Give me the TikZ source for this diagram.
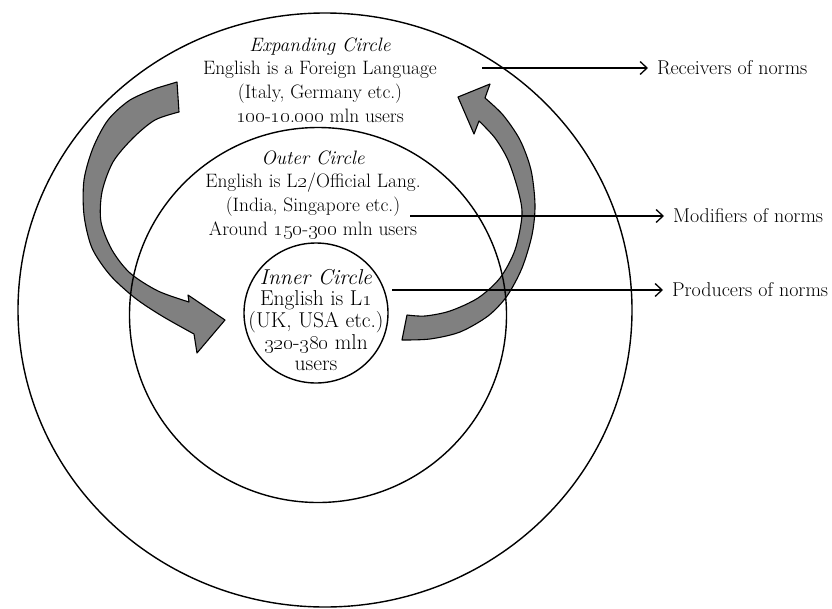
\documentclass[tikz,border=0pt]{standalone}
\usetikzlibrary{arrows.meta,shapes.geometric}
\newcommand{\os}[1]{\oldstylenums{#1}}
\begin{document}
\begin{tikzpicture}[x=1pt,y=-1pt,
  circ/.style={draw=black, line width=1.4pt, ellipse, inner sep=0pt},
  txt/.style={align=center, font=\fontsize{19.4}{23.8}\selectfont, inner sep=0pt},
  itxt/.style={align=center, font=\fontsize{21.5}{21.6}\selectfont, inner sep=0pt},
  lbl/.style={anchor=west, font=\fontsize{20}{22}\selectfont, inner sep=0pt, outer sep=0pt},
  normarrow/.style={line width=1.3pt, shorten >=9pt, -{Straight Barb[length=7pt,width=13pt]}},
  bigarrow/.style={fill=black!50, draw=black, line width=1.1pt, line join=round}
]
\useasboundingbox (0,0) rectangle (832,608);
\fill[white] (0,0) rectangle (832,608);

% big curved arrows
\draw[bigarrow] (177,82) -- (157,88) -- plot[smooth] coordinates {(157,88) (130,100) (108,120) (93,148) (84,180) (84,215) (92,248) (110,275) (135,298) (162,316) (194,334)} -- (197,353) -- (225,320) -- (188,295) -- (189,302) -- plot[smooth] coordinates {(189,302) (158,291) (130,273) (112,250) (101,222) (102,192) (113,162) (133,138) (155,120) (179,112)} -- cycle;

\draw[bigarrow] (407,315) -- (402,340) -- plot[smooth] coordinates {(402,340) (430,339) (460,332) (488,316) (507,296) (522,268) (532,235) (535,205) (531,170) (520,140) (503,115) (485,98)} -- (490,84) -- (458,97) -- (474,134) -- (479,121) -- plot[smooth] coordinates {(479,121) (495,138) (508,160) (518,190) (522,215) (515,250) (500,278) (478,298) (450,311) (425,316) (407,315)} -- cycle;

% circles
\node[circ, minimum width=614pt, minimum height=594pt] (outerc) at (325,310) {};
\node[circ, minimum width=377pt, minimum height=375pt] (midc) at (318,315) {};
\node[circ, minimum width=144pt, minimum height=140pt] (innc) at (316,313) {};

% texts
\node[txt] (exp) at (320,80) {\textit{Expanding Circle}\\English is a Foreign Language\\(Italy, Germany etc.)\\\os{100}-\os{10}.\os{000} mln users};
\node[txt] (out) at (313,195) {\textit{Outer Circle}\\English is L\os{2}/Official Lang.\\(India, Singapore etc.)\\Around \os{150}-\os{300} mln users};
\node[itxt] (inn) at (316,320) {\textit{Inner Circle}\\English is L\os{1}\\(UK, USA etc.)\\\os{320}-\os{380} mln\\users};

% labels
\node[lbl] (recv) at (657,68) {Receivers of norms};
\node[lbl] (modi) at (673,216) {Modifiers of norms};
\node[lbl] (prod) at (672,290) {Producers of norms};

\coordinate (rc) at (482,68);
\coordinate (mc) at (410,216);
\coordinate (pc) at (392,290);
\draw[normarrow] (rc) -- (recv.west);
\draw[normarrow] (mc) -- (modi.west);
\draw[normarrow] (pc) -- (prod.west);
\end{tikzpicture}
\end{document}
